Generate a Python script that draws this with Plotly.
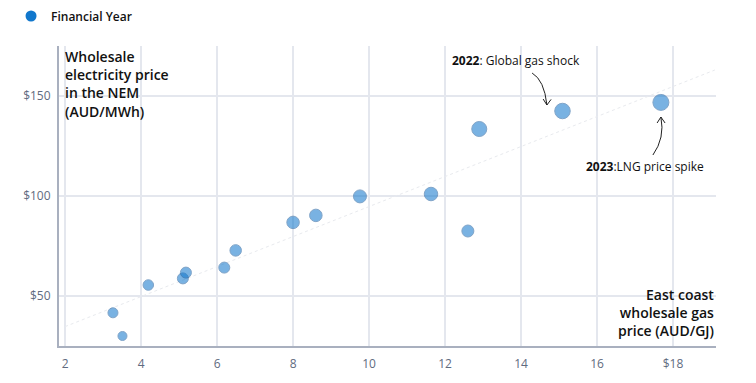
import plotly.graph_objects as go

# Data: East coast wholesale gas price (AUD/GJ) vs NEM wholesale electricity price (AUD/MWh)
gas_price = [3.26, 3.51, 4.19, 5.10, 5.18, 6.19, 6.49, 8.00, 8.60, 9.76, 11.63, 12.60, 12.90, 15.09, 17.68]
elec_price = [41.6, 30.0, 55.5, 58.8, 61.7, 64.2, 72.8, 86.8, 90.3, 99.8, 101.0, 82.5, 133.5, 142.5, 146.8]
marker_px = [10, 9, 10.5, 11, 11, 11, 11.5, 12.5, 12.5, 13, 13.5, 12, 15, 15.5, 16]

trend_x = [2.0, 19.1]
trend_y = [34.7, 163.0]

x_ticks = [2, 4, 6, 8, 10, 12, 14, 16, 18]
x_tick_labels = ["2", "4", "6", "8", "10", "12", "14", "16", "$18"]
y_ticks = [50, 100, 150]
y_tick_labels = ["$50", "$100", "$150"]

X_RANGE = [1.84, 19.13]
Y_RANGE = [25, 175]

BLUE = "#1177CC"
TEXT_FONT = "Open Sans"
TICK_FONT = "Open Sans"

fig = go.Figure()

fig.add_trace(go.Scatter(
    x=trend_x, y=trend_y, mode="lines",
    line=dict(color="#e8eaee", width=1, dash="dot"),
    showlegend=False, hoverinfo="skip",
))

fig.add_trace(go.Scatter(
    x=gas_price, y=elec_price, mode="markers",
    marker=dict(size=marker_px, color=BLUE, opacity=0.56,
                line=dict(color="#1f5e9e", width=1)),
    showlegend=False,
))

# legend-only trace (solid swatch)
fig.add_trace(go.Scatter(
    x=[None], y=[None], mode="markers", name="Financial Year",
    marker=dict(size=11, color=BLUE), showlegend=True,
))

# curved annotation arrows (data coordinates)
arrow_style = dict(type="path", xref="x", yref="y", line=dict(color="#222222", width=1))
fig.add_shape(path="M 14.29,161.5 Q 14.61,158 14.68,145.5", **arrow_style)
fig.add_shape(path="M 14.58,148.5 L 14.68,145.5 L 14.79,148.3", **arrow_style)
fig.add_shape(path="M 17.47,120.5 Q 17.79,129 17.68,139.5", **arrow_style)
fig.add_shape(path="M 17.58,136.5 L 17.68,139.5 L 17.79,136.5", **arrow_style)

fig.add_annotation(x=13.86, y=168, xref="x", yref="y", showarrow=False,
                   text="<b>2022</b>: Global gas shock",
                   font=dict(family=TEXT_FONT, size=12, color="#111111"))
fig.add_annotation(x=17.26, y=115, xref="x", yref="y", showarrow=False,
                   text="<b>2023</b>:LNG price spike",
                   font=dict(family=TEXT_FONT, size=12, color="#111111"))

# axis titles
fig.add_annotation(x=0.006, y=1, xref="paper", yref="paper", xanchor="left", yanchor="top",
                   showarrow=False, align="left", yshift=1,
                   text="Wholesale<br>electricity price<br>in the NEM<br>(AUD/MWh)",
                   font=dict(family=TEXT_FONT, size=14, color="#111111", weight=600))
fig.add_annotation(x=1, y=0, xref="paper", yref="paper", xanchor="right", yanchor="bottom",
                   showarrow=False, align="right", yshift=4,
                   text="East coast<br>wholesale gas<br>price (AUD/GJ)",
                   font=dict(family=TEXT_FONT, size=14, color="#111111", weight=600))

# page body adds an 8px offset, so the figure is sized 8px smaller each way
fig.update_layout(
    width=748, height=375,
    margin=dict(l=51, r=40, t=38, b=37, autoexpand=False),
    paper_bgcolor="white", plot_bgcolor="white",
    font=dict(family=TICK_FONT, color="#5f6b80"),
    legend=dict(orientation="h", xref="paper", yref="paper",
                x=-0.073, y=1.1, xanchor="left", yanchor="middle",
                font=dict(family=TEXT_FONT, size=12, color="#111111", weight=600),
                itemwidth=30),
    xaxis=dict(range=X_RANGE, tickvals=x_ticks, ticktext=x_tick_labels,
               showgrid=True, gridcolor="#e4e7ee", gridwidth=1.5,
               zeroline=False, showline=True, linecolor="#a9b0bf", linewidth=2,
               ticks="outside", ticklen=6, tickcolor="rgba(0,0,0,0)",
               tickfont=dict(size=12, color="#5f6b80")),
    yaxis=dict(range=Y_RANGE, tickvals=y_ticks, ticktext=y_tick_labels,
               showgrid=True, gridcolor="#e4e7ee", gridwidth=1.5,
               zeroline=False, showline=True, linecolor="#a9b0bf", linewidth=2,
               ticks="outside", ticklen=4, tickcolor="rgba(0,0,0,0)",
               tickfont=dict(size=12, color="#5f6b80")),
)

fig.write_html("out.html")
